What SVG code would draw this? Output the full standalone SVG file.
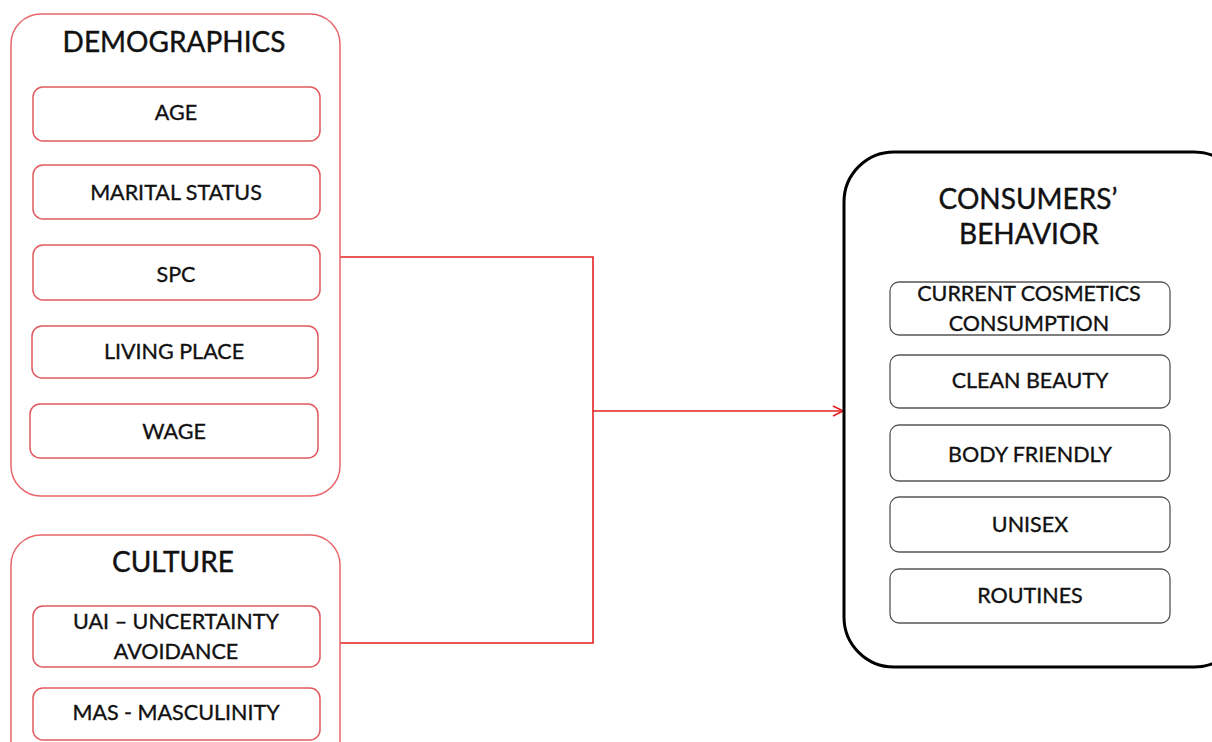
<svg xmlns="http://www.w3.org/2000/svg" width="1212" height="742" viewBox="0 0 1212 742">
<style>
  .outerRed { fill: #ffffff; stroke: #e8666b; stroke-width: 1.5; }
  .innerRed { fill: #ffffff; stroke: #e05a5f; stroke-width: 1.5; }
  .outerBlack { fill: #ffffff; stroke: #000000; stroke-width: 3; }
  .innerBlack { fill: #ffffff; stroke: #555555; stroke-width: 1.3; }
  .title { font-family: Lato, "Liberation Sans", sans-serif; font-size: 28px; fill: #111111; stroke: #111111; stroke-width: 0.4; text-anchor: middle; }
  .label { font-family: Lato, "Liberation Sans", sans-serif; font-size: 21.5px; fill: #111111; stroke: #111111; stroke-width: 0.35; text-anchor: middle; }
  .conn { fill: none; stroke: #e52222; stroke-width: 1.6; }
</style>
<defs>
  <marker id="arrow" viewBox="0 0 12 12" refX="11" refY="6" markerWidth="12" markerHeight="12" markerUnits="userSpaceOnUse" orient="auto">
    <path d="M1,1 L11,6 L1,11" fill="none" stroke="#e52222" stroke-width="1.6"/>
  </marker>
</defs>
<rect width="1212" height="742" fill="#ffffff"/>

<g id="connectors">
  <polyline class="conn" points="340,257 593,257 593,643 340,643"/>
  <line class="conn" x1="593" y1="411" x2="843" y2="411" marker-end="url(#arrow)"/>
</g>

<g id="demographics">
  <rect class="outerRed" x="11" y="14" width="329" height="482" rx="30"/>
  <text class="title" x="174" y="52">DEMOGRAPHICS</text>
</g>
<g id="age">
  <rect class="innerRed" x="33" y="87" width="287" height="54" rx="10"/>
  <text class="label" x="176" y="120">AGE</text>
</g>
<g id="marital-status">
  <rect class="innerRed" x="33" y="165" width="287" height="54" rx="10"/>
  <text class="label" x="176" y="200">MARITAL STATUS</text>
</g>
<g id="spc">
  <rect class="innerRed" x="33" y="245" width="287" height="55" rx="10"/>
  <text class="label" x="176" y="282">SPC</text>
</g>
<g id="living-place">
  <rect class="innerRed" x="32" y="326" width="286" height="52" rx="10"/>
  <text class="label" x="174" y="359">LIVING PLACE</text>
</g>
<g id="wage">
  <rect class="innerRed" x="30" y="404" width="288" height="54" rx="10"/>
  <text class="label" x="174" y="439">WAGE</text>
</g>

<g id="culture">
  <rect class="outerRed" x="11" y="535" width="329" height="240" rx="30"/>
  <text class="title" x="173" y="572">CULTURE</text>
</g>
<g id="uai">
  <rect class="innerRed" x="33" y="606" width="287" height="61" rx="10"/>
  <text class="label" x="176" y="629">UAI – UNCERTAINTY</text>
  <text class="label" x="176" y="659">AVOIDANCE</text>
</g>
<g id="mas">
  <rect class="innerRed" x="33" y="688" width="287" height="52" rx="10"/>
  <text class="label" x="176" y="720">MAS - MASCULINITY</text>
</g>

<g id="consumers-behavior">
  <rect class="outerBlack" x="844" y="152" width="400" height="515" rx="50"/>
  <text class="title" x="1028" y="209">CONSUMERS’</text>
  <text class="title" x="1029" y="244">BEHAVIOR</text>
</g>
<g id="current-cosmetics">
  <rect class="innerBlack" x="890" y="282" width="280" height="53" rx="9"/>
  <text class="label" x="1029" y="301">CURRENT COSMETICS</text>
  <text class="label" x="1029" y="331">CONSUMPTION</text>
</g>
<g id="clean-beauty">
  <rect class="innerBlack" x="890" y="355" width="280" height="53" rx="9"/>
  <text class="label" x="1030" y="388">CLEAN BEAUTY</text>
</g>
<g id="body-friendly">
  <rect class="innerBlack" x="890" y="425" width="280" height="56" rx="9"/>
  <text class="label" x="1030" y="462">BODY FRIENDLY</text>
</g>
<g id="unisex">
  <rect class="innerBlack" x="890" y="497" width="280" height="55" rx="9"/>
  <text class="label" x="1030" y="532">UNISEX</text>
</g>
<g id="routines">
  <rect class="innerBlack" x="890" y="569" width="280" height="54" rx="9"/>
  <text class="label" x="1030" y="603">ROUTINES</text>
</g>
</svg>
